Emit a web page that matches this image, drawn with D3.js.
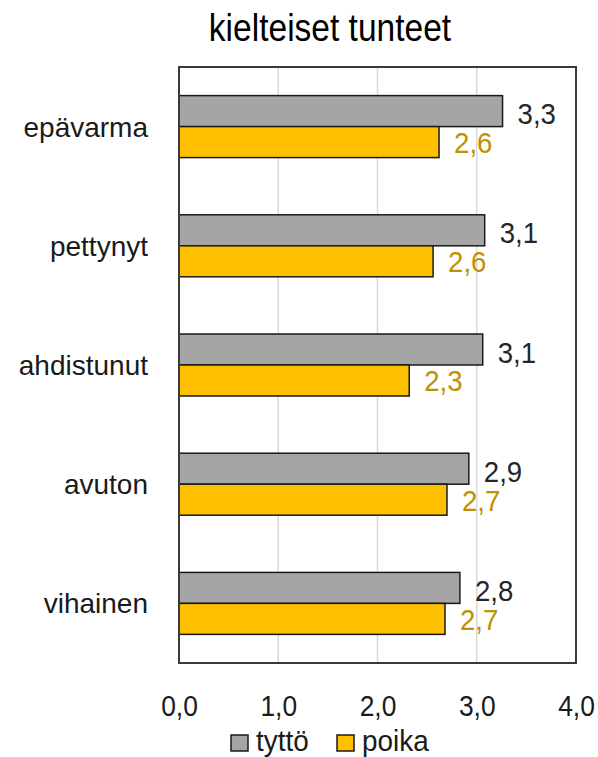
<!DOCTYPE html>
<html>
<head>
<meta charset="utf-8">
<script src="https://cdn.jsdelivr.net/npm/d3@7"></script>
<style>
  body { margin: 0; background: #fff; }
  text { font-family: "Liberation Sans", Arial, sans-serif; }
</style>
</head>
<body>
<div id="chart"></div>
<script>
// data
var categories = ["epävarma", "pettynyt", "ahdistunut", "avuton", "vihainen"];
var seriesNames = ["tyttö", "poika"];
var tytto = [3.26, 3.08, 3.06, 2.92, 2.83];
var poika = [2.62, 2.56, 2.32, 2.70, 2.68];
var xTicks = [0, 1, 2, 3, 4];

var W = 598, H = 757;
var m = {left: 179, right: 576, top: 67, bottom: 663};

var colors = {"tyttö": "#a5a5a5", "poika": "#ffc000"};
var labelColors = {"tyttö": "#262626", "poika": "#bf9000"};

var rows = categories.map(function(c, i) {
  return {cat: c, vals: [{s: "tyttö", v: tytto[i]}, {s: "poika", v: poika[i]}]};
});

var fmt = function(v) { return d3.format(".1f")(v).replace(".", ","); };

var svg = d3.select("#chart").append("svg").attr("width", W).attr("height", H);

var x = d3.scaleLinear().domain([0, 4]).range([m.left, m.right]);
var y = d3.scaleBand().domain(categories).range([m.top, m.bottom]).paddingInner(0.48).paddingOuter(0.24);
var ys = d3.scaleBand().domain(seriesNames).range([0, y.bandwidth()]);

// title (condensed look)
svg.append("text").attr("transform", "translate(330,41) scale(0.86,1)").attr("text-anchor", "middle")
  .style("font-size", "39px").attr("fill", "#000").text("kielteiset tunteet");

// gridlines
svg.append("g").selectAll("line").data(xTicks.slice(1, -1)).enter().append("line")
  .attr("x1", function(d) { return x(d); }).attr("x2", function(d) { return x(d); })
  .attr("y1", m.top).attr("y2", m.bottom)
  .attr("stroke", "#d9d9d9").attr("stroke-width", 1.5);

// bars
var g = svg.append("g").selectAll("g").data(rows).enter().append("g")
  .attr("transform", function(d) { return "translate(0," + y(d.cat) + ")"; });

g.selectAll("rect").data(function(d) { return d.vals; }).enter().append("rect")
  .attr("x", x(0))
  .attr("y", function(d) { return ys(d.s); })
  .attr("width", function(d) { return x(d.v) - x(0); })
  .attr("height", ys.bandwidth())
  .attr("fill", function(d) { return colors[d.s]; })
  .attr("stroke", "#1a1a1a").attr("stroke-width", 1.5);

g.selectAll("text.val").data(function(d) { return d.vals; }).enter().append("text")
  .attr("class", "val")
  .attr("transform", function(d) {
    var ty = ys(d.s) + ys.bandwidth() / 2 + (d.s === "tyttö" ? 13 : 11);
    return "translate(" + (x(d.v) + 15) + "," + ty + ") scale(0.92,1)";
  })
  .style("font-size", "30px")
  .attr("fill", function(d) { return labelColors[d.s]; })
  .text(function(d) { return fmt(d.v); });

// frame
svg.append("rect").attr("x", m.left).attr("y", m.top)
  .attr("width", m.right - m.left).attr("height", m.bottom - m.top)
  .attr("fill", "none").attr("stroke", "#3a3a3a").attr("stroke-width", 2);

// category labels
svg.append("g").selectAll("text").data(categories).enter().append("text")
  .attr("x", 148).attr("y", function(d) { return y(d) + y.bandwidth() / 2 + 10; })
  .attr("text-anchor", "end").style("font-size", "28px").attr("fill", "#1a1a1a")
  .text(function(d) { return d; });

// x axis labels
var xAxis = d3.axisBottom(x).tickValues(xTicks).tickSize(0).tickPadding(0).tickFormat(fmt);
var ax = svg.append("g").attr("transform", "translate(0,716)").call(xAxis);
ax.select(".domain").remove();
ax.selectAll("text").attr("dy", 0).attr("transform", "scale(0.88,1)").style("font-size", "30px")
  .style("font-family", "'Liberation Sans', Arial, sans-serif").attr("fill", "#1a1a1a");

// legend
var leg = svg.append("g").selectAll("g").data(seriesNames).enter().append("g")
  .attr("transform", function(d, i) { return "translate(" + (231 + i * 106) + ",735)"; });
leg.append("rect").attr("width", 17).attr("height", 16)
  .attr("fill", function(d) { return colors[d]; })
  .attr("stroke", "#1a1a1a").attr("stroke-width", 1.5);
leg.append("text").attr("transform", "translate(25,16) scale(0.93,1)").style("font-size", "30px").attr("fill", "#1a1a1a")
  .text(function(d) { return d; });
</script>
</body>
</html>
